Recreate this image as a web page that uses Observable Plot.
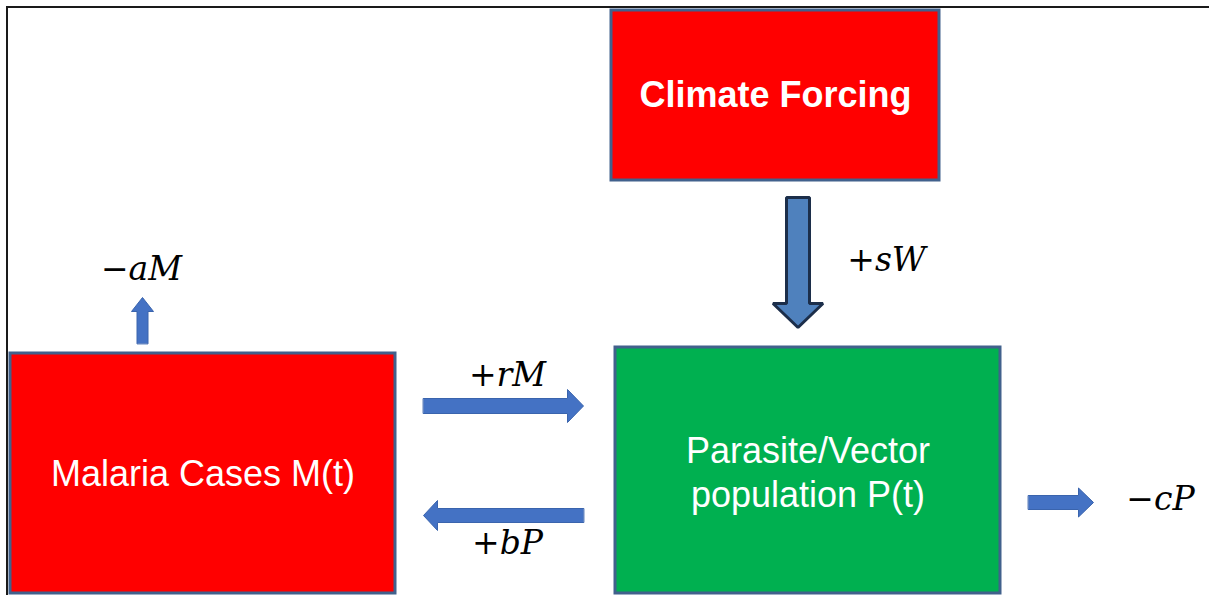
<!DOCTYPE html>
<html>
<head>
<meta charset="utf-8">
<script src="https://cdn.jsdelivr.net/npm/d3@7"></script>
<script src="https://cdn.jsdelivr.net/npm/@observablehq/plot@0.6"></script>
<style>
html,body{margin:0;padding:0;background:#fff;overflow:hidden;}
#chart svg{display:block;}
</style>
</head>
<body>
<div id="chart"></div>
<script>
// Diagram nodes (boxes) in pixel-space data coordinates
const boxNames = ["Climate Forcing", "Malaria Cases M(t)", "Parasite/Vector\npopulation P(t)"];
const boxX1 = [611, 10, 615];
const boxX2 = [939, 395, 1000];
const boxY1 = [10, 353, 347];
const boxY2 = [180, 593, 593];
const boxFill = ["#ff0000", "#ff0000", "#00b050"];
const boxBold = [true, false, false];
const boxTextY = [95, 471, 470];

// Flow arrows: start point, end point (tip)
const arrowIds = ["sW", "aM", "rM", "bP", "cP"];
const arrowX1 = [797.5, 142, 423, 583, 1028];
const arrowY1 = [197, 343, 405.5, 515, 502];
const arrowX2 = [797.5, 142, 583, 423, 1093];
const arrowY2 = [327, 297, 405.5, 515, 502];
const arrowShaft = [23, 11, 15, 14, 14];
const arrowHeadW = [50, 22, 33, 30, 29];
const arrowHeadL = [24, 14, 16, 14, 15];

// Flow term labels
const termLabels = ["+sW", "\u2212aM", "+rM", "+bP", "\u2212cP"];
const termX = [886, 141, 507, 507, 1160];
const termY = [260, 269, 375, 543, 499];

const boxes = boxNames.map((name, i) => ({
  name, x1: boxX1[i], x2: boxX2[i], y1: boxY1[i], y2: boxY2[i],
  fill: boxFill[i], bold: boxBold[i],
  cx: (boxX1[i] + boxX2[i]) / 2,
  cy: boxTextY[i]
}));

function arrowPolygon(i) {
  const x1 = arrowX1[i], y1 = arrowY1[i], x2 = arrowX2[i], y2 = arrowY2[i];
  const len = Math.hypot(x2 - x1, y2 - y1);
  const ux = (x2 - x1) / len, uy = (y2 - y1) / len;
  const nx = -uy, ny = ux;
  const s = arrowShaft[i] / 2, h = arrowHeadW[i] / 2, L = arrowHeadL[i];
  const bx = x2 - ux * L, by = y2 - uy * L;
  const pts = [
    [x1 + nx * s, y1 + ny * s],
    [bx + nx * s, by + ny * s],
    [bx + nx * h, by + ny * h],
    [x2, y2],
    [bx - nx * h, by - ny * h],
    [bx - nx * s, by - ny * s],
    [x1 - nx * s, y1 - ny * s]
  ];
  return pts.map(([x, y], k) => ({id: arrowIds[i], k, x, y}));
}
const bigArrow = arrowPolygon(0);
const smallArrows = [1, 2, 3, 4].flatMap(arrowPolygon);

const terms = termLabels.map((t, i) => ({t, x: termX[i], y: termY[i]}));
const frame = [{x1: 7, x2: 1220, y1: 7, y2: 610}];

const chart = Plot.plot({
  width: 1209,
  height: 595,
  margin: 0,
  x: {domain: [0, 1209], range: [0, 1209], axis: null},
  y: {domain: [0, 595], range: [0, 595], axis: null},
  style: {background: "#ffffff", overflow: "hidden"},
  marks: [
    Plot.rect(frame, {x1: "x1", x2: "x2", y1: "y1", y2: "y2", fill: "none", stroke: "#1a1a1a", strokeWidth: 2}),
    Plot.rect(boxes, {x1: "x1", x2: "x2", y1: "y1", y2: "y2", fill: "fill", stroke: "#41618c", strokeWidth: 3}),
    Plot.text(boxes.filter(d => d.bold), {x: "cx", y: "cy", text: "name", fill: "white", fontSize: 36, fontWeight: "bold", fontFamily: "Liberation Sans, Arial, sans-serif"}),
    Plot.text(boxes.filter(d => !d.bold), {x: "cx", y: "cy", text: "name", fill: "white", fontSize: 36, lineHeight: 1.22, fontFamily: "Liberation Sans, Arial, sans-serif"}),
    Plot.line(bigArrow, {x: "x", y: "y", z: "id", curve: "linear-closed", fill: "#4f81bd", stroke: "#1c2e4a", strokeWidth: 3, strokeLinejoin: "miter"}),
    Plot.line(smallArrows, {x: "x", y: "y", z: "id", curve: "linear-closed", fill: "#4472c4", stroke: "#3a64ad", strokeWidth: 1}),
    Plot.text(terms, {x: "x", y: "y", text: "t", fill: "#000", fontSize: 33, fontStyle: "italic", fontFamily: "DejaVu Serif, serif"})
  ]
});
document.getElementById("chart").appendChild(chart);
</script>
</body>
</html>
